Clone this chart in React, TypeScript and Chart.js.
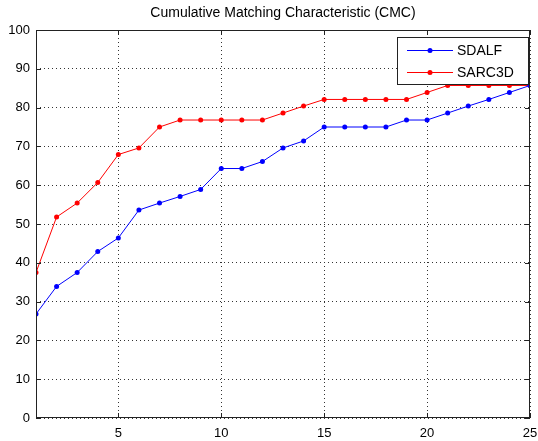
import React, { useEffect, useRef } from "react";
import { Chart, registerables } from "chart.js";

Chart.register(...registerables);

const TITLE = "Cumulative Matching Characteristic (CMC)";
const ranks = [1, 2, 3, 4, 5, 6, 7, 8, 9, 10, 11, 12, 13, 14, 15, 16, 17, 18, 19, 20, 21, 22, 23, 24, 25];
const sdalf = [26.8, 33.9, 37.5, 42.9, 46.4, 53.6, 55.4, 57.1, 58.9, 64.3, 64.3, 66.1, 69.6, 71.4, 75.0, 75.0, 75.0, 75.0, 76.8, 76.8, 78.6, 80.4, 82.1, 83.9, 85.7];
const sarc3d = [37.5, 51.8, 55.4, 60.7, 67.9, 69.6, 75.0, 76.8, 76.8, 76.8, 76.8, 76.8, 78.6, 80.4, 82.1, 82.1, 82.1, 82.1, 82.1, 83.9, 85.7, 85.7, 85.7, 85.7, 85.7];
const xTicks = [5, 10, 15, 20, 25];
const yTicks = [0, 10, 20, 30, 40, 50, 60, 70, 80, 90, 100];

const FONT = '"Liberation Sans", Arial, sans-serif';

const framePlugin = {
  id: "frame",
  afterDraw(chart: any) {
    const { ctx, chartArea } = chart;
    const { left, top, right, bottom } = chartArea;
    const xs = chart.scales.x;
    const ys = chart.scales.y;
    ctx.save();
    ctx.strokeStyle = "#222";
    ctx.lineWidth = 1;
    // box
    ctx.strokeRect(Math.round(left) + 0.5, Math.round(top) + 0.5, Math.round(right - left) - 1, Math.round(bottom - top) - 1);
    // inward ticks
    ctx.beginPath();
    const tl = 5;
    xTicks.forEach((v) => {
      const px = Math.round(xs.getPixelForValue(v)) + 0.5;
      ctx.moveTo(px, bottom);
      ctx.lineTo(px, bottom - tl);
      ctx.moveTo(px, top);
      ctx.lineTo(px, top + tl);
    });
    yTicks.forEach((v) => {
      const py = Math.round(ys.getPixelForValue(v)) + 0.5;
      ctx.moveTo(left, py);
      ctx.lineTo(left + tl, py);
      ctx.moveTo(right, py);
      ctx.lineTo(right - tl, py);
    });
    ctx.stroke();

    // title
    ctx.fillStyle = "#000";
    ctx.font = `14px ${FONT}`;
    ctx.textAlign = "center";
    ctx.textBaseline = "middle";
    ctx.fillText(TITLE, (left + right) / 2, 13);

    // legend
    const bx = right - 133;
    const by = top + 7;
    const bw = 131;
    const bh = 47;
    ctx.fillStyle = "#fff";
    ctx.fillRect(bx, by, bw, bh);
    ctx.strokeStyle = "#222";
    ctx.strokeRect(bx + 0.5, by + 0.5, bw, bh);
    chart.data.datasets.forEach((ds: any, i: number) => {
      const ly = by + 13 + i * 22;
      ctx.strokeStyle = ds.borderColor;
      ctx.lineWidth = 1;
      ctx.beginPath();
      ctx.moveTo(bx + 10, ly + 0.5);
      ctx.lineTo(bx + 56, ly + 0.5);
      ctx.stroke();
      ctx.fillStyle = ds.borderColor;
      ctx.beginPath();
      ctx.arc(bx + 33, ly + 0.5, 2.5, 0, Math.PI * 2);
      ctx.fill();
      ctx.fillStyle = "#000";
      ctx.font = `14px ${FONT}`;
      ctx.textAlign = "left";
      ctx.textBaseline = "middle";
      ctx.fillText(ds.label, bx + 60, ly + 1);
    });
    ctx.restore();
  },
};

export default function App() {
  const ref = useRef<HTMLCanvasElement>(null);
  useEffect(() => {
    document.body.style.margin = "0";
    const chart = new Chart(ref.current!, {
      type: "line",
      data: {
        datasets: [
          {
            label: "SDALF",
            data: ranks.map((r, i) => ({ x: r, y: sdalf[i] })),
            borderColor: "#0000ff",
            backgroundColor: "#0000ff",
            borderWidth: 1,
            pointRadius: 2.5,
            pointHoverRadius: 2.5,
            pointBorderWidth: 0,
            tension: 0,
          },
          {
            label: "SARC3D",
            data: ranks.map((r, i) => ({ x: r, y: sarc3d[i] })),
            borderColor: "#ff0000",
            backgroundColor: "#ff0000",
            borderWidth: 1,
            pointRadius: 2.5,
            pointHoverRadius: 2.5,
            pointBorderWidth: 0,
            tension: 0,
          },
        ],
      },
      options: {
        responsive: false,
        animation: false,
        events: [],
        layout: { padding: { top: 30, right: 8, left: 0, bottom: 0 } },
        plugins: {
          legend: { display: false },
          title: { display: false },
          tooltip: { enabled: false },
        },
        scales: {
          x: {
            type: "linear",
            min: 1,
            max: 25,
            afterBuildTicks: (axis: any) => {
              axis.ticks = xTicks.map((v) => ({ value: v }));
            },
            afterFit: (axis: any) => {
              axis.height = 23;
              axis.paddingLeft = 0;
              axis.paddingRight = 0;
            },
            grid: {
              color: "#333",
              lineWidth: 1,
              drawTicks: false,
              tickLength: 0,
            },
            border: { display: false, dash: [1, 3] },
            ticks: {
              padding: 8,
              maxRotation: 0,
              color: "#000",
              font: { family: FONT, size: 13 },
            },
          },
          y: {
            type: "linear",
            min: 0,
            max: 100,
            afterBuildTicks: (axis: any) => {
              axis.ticks = yTicks.map((v) => ({ value: v }));
            },
            afterFit: (axis: any) => {
              axis.width = 36;
              axis.paddingTop = 0;
              axis.paddingBottom = 0;
            },
            grid: {
              color: "#333",
              lineWidth: 1,
              drawTicks: false,
              tickLength: 0,
            },
            border: { display: false, dash: [1, 3] },
            ticks: {
              padding: 6,
              color: "#000",
              font: { family: FONT, size: 13 },
            },
          },
        },
      },
      plugins: [framePlugin],
    });
    return () => chart.destroy();
  }, []);
  return (
    <div style={{ width: 538, height: 441, background: "#fff" }}>
      <canvas ref={ref} width={538} height={441} style={{ display: "block" }} />
    </div>
  );
}
